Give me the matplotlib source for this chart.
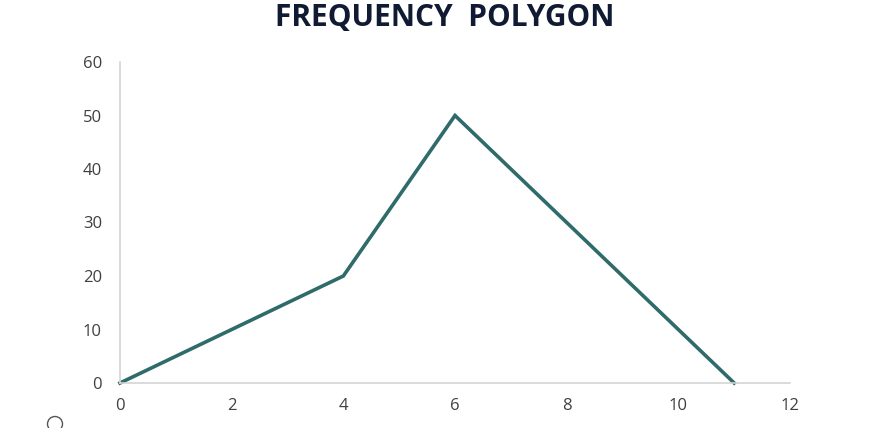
import matplotlib
matplotlib.use("Agg")
import matplotlib.pyplot as plt
from matplotlib.patches import Ellipse

# data
class_marks = [0, 2, 4, 6, 8, 10, 11]
frequency = [0, 10, 20, 50, 30, 10, 0]
x_ticks = [0, 2, 4, 6, 8, 10, 12]
y_ticks = [0, 10, 20, 30, 40, 50, 60]

fig = plt.figure(figsize=(8.7, 4.28), dpi=100)
ax = fig.add_axes([120 / 870, 45 / 428, 670 / 870, 321 / 428])

ax.plot(class_marks, frequency, color="#2f6b6a", linewidth=2.6,
        solid_joinstyle="miter", clip_on=False)

ax.set_xlim(0, 12)
ax.set_ylim(0, 60)
ax.set_xticks(x_ticks)
ax.set_yticks(y_ticks)

for side in ["top", "right"]:
    ax.spines[side].set_visible(False)
for side in ["left", "bottom"]:
    ax.spines[side].set_color("#d4d4d4")
    ax.spines[side].set_linewidth(1.2)

ax.tick_params(axis="both", length=0, colors="#404040", labelsize=12)
ax.tick_params(axis="y", pad=13)
ax.tick_params(axis="x", pad=11)
for lbl in ax.get_xticklabels() + ax.get_yticklabels():
    lbl.set_fontfamily("Open Sans")

fig.text(0.511, 0.957, "FREQUENCY  POLYGON", ha="center", va="center",
         fontsize=21.5, fontweight="bold", color="#111a33", family="Open Sans")

# small circle artefact in the lower-left corner (partly cut off)
fig.patches.append(Ellipse((55 / 870, 4 / 428), 15 / 870, 15 / 428,
                           transform=fig.transFigure, fill=False,
                           edgecolor="#555555", linewidth=1))

fig.savefig("out.png", dpi=100)
